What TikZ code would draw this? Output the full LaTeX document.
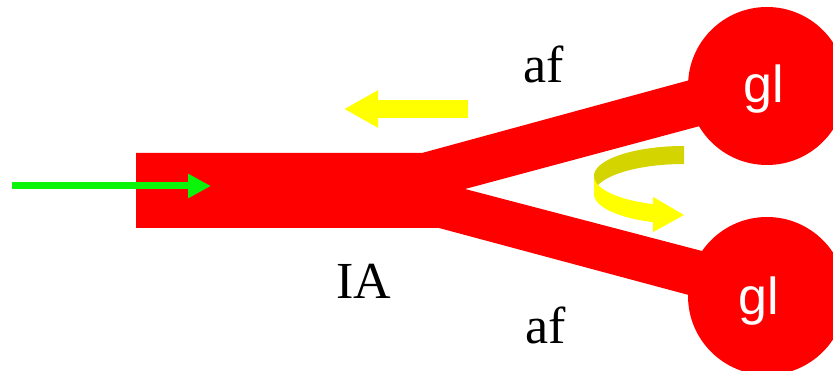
\documentclass[tikz,border=0pt]{standalone}
\usepackage{fontspec}
\setmainfont{Liberation Serif}
\newfontfamily\glfont{Liberation Sans}
\usetikzlibrary{arrows.meta}
\definecolor{grn}{RGB}{10,245,10}
\definecolor{dyel}{RGB}{212,212,0}
\definecolor{yel}{RGB}{255,255,0}
\begin{document}
\begin{tikzpicture}[x=1pt,y=-1pt,
  lbl/.style={font=\fontsize{52}{60}\selectfont, inner sep=0pt, anchor=base},
  gllbl/.style={font=\glfont\fontsize{52}{60}\selectfont, text=white, inner sep=0pt, anchor=base},
  greenarrow/.style={draw=grn, line width=7pt, -{Triangle[length=23pt,width=23pt]}},
  yelarrow/.style={draw=yel, line width=18pt, -{Triangle[length=34pt,width=35pt]}}]
\useasboundingbox (0,0) rectangle (833,371);
\clip (0,0) rectangle (833,371);
% red fork
\fill[red] (136,153) -- (422,153) -- (767,59) -- (767,108) -- (465,189)
  -- (767,268) -- (767,316) -- (439,228) -- (136,228) -- cycle;
\fill[red] (767,86) circle[radius=79pt];
\fill[red] (767,296) circle[radius=79pt];
\node[gllbl] (g1) at (763.5,103) {gl};
\node[gllbl] (g2) at (759,315) {gl};
% labels
\node[lbl] (af1) at (544,83) {af};
\node[lbl] (af2) at (546,344) {af};
\node[lbl] (ia) at (364,299) {IA};
% green arrow
\coordinate (gs) at (12,186);
\coordinate (ge) at (211,186);
\draw[greenarrow] (gs) -- (ge);
% yellow straight arrow
\coordinate (ys) at (468,109);
\coordinate (ye) at (344,109);
\draw[yelarrow] (ys) -- (ye);
% curved arrow, back part
\fill[dyel] plot[domain=-90:-180, samples=40] ({684+90*cos(\x)},{176+30*sin(\x)})
  -- plot[domain=-180:-90, samples=40] ({684+90*cos(\x)},{194+30*sin(\x)}) -- cycle;
% curved arrow, front part
\fill[yel] plot[domain=180:110, samples=40] ({684+90*cos(\x)},{176+30*sin(\x)})
  -- (653.2,197) -- (684,215) -- (653.2,232)
  -- plot[domain=110:180, samples=40] ({684+90*cos(\x)},{194+30*sin(\x)}) -- cycle;
\end{tikzpicture}
\end{document}
